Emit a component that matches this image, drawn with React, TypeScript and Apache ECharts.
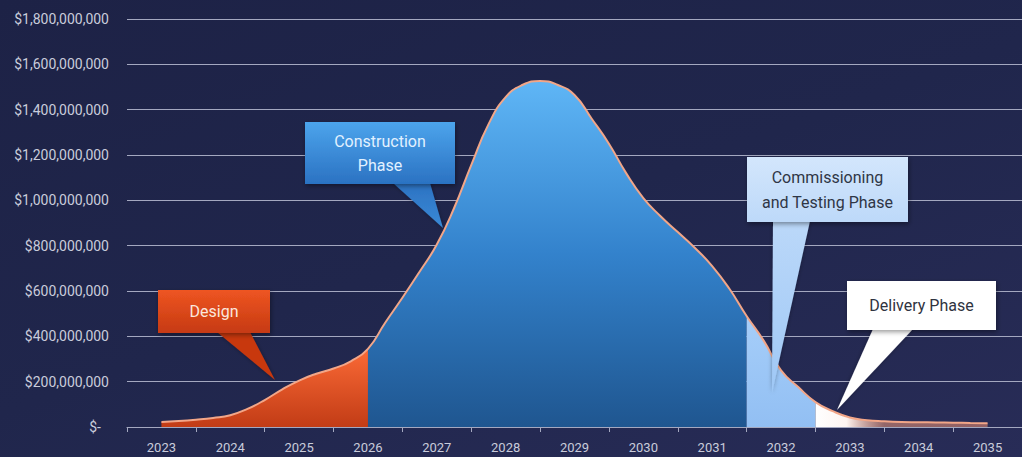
import React, { useEffect, useRef } from "react";
import * as echarts from "echarts";

const yearLabels = ["2023", "2024", "2025", "2026", "2027", "2028", "2029", "2030", "2031", "2032", "2033", "2034", "2035"];

// sample points (year, quarterly)
const sampleYears = [
  2023, 2023.25, 2023.5, 2023.75, 2024, 2024.25, 2024.5, 2024.75,
  2025, 2025.25, 2025.5, 2025.75, 2026, 2026.25, 2026.5, 2026.75,
  2027, 2027.25, 2027.5, 2027.75, 2028, 2028.25, 2028.5, 2028.75,
  2029, 2029.25, 2029.5, 2029.75, 2030, 2030.25, 2030.5, 2030.75,
  2031, 2031.25, 2031.5, 2031.75, 2032, 2032.25, 2032.5, 2032.75,
  2033, 2033.25, 2033.5, 2033.75, 2034, 2034.25, 2034.5, 2034.75, 2035,
];

// spend in millions of dollars
const spendMillions = [
  22, 26, 32, 40, 52, 80, 119, 165,
  205, 235, 258, 290, 345, 460, 570, 685,
  805, 965, 1155, 1335, 1455, 1510, 1527, 1510,
  1465, 1360, 1250, 1120, 1010, 930, 860, 790,
  710, 610, 490, 380, 250, 176, 110, 70,
  42, 30, 25, 22, 21, 20, 19, 18, 17,
];

const phaseNames = ["Design", "Construction Phase", "Commissioning and Testing Phase", "Delivery Phase"];
const phaseStarts = [2023, 2026, 2031.5, 2032.5];
const phaseEnds = [2026, 2031.5, 2032.5, 2035];

const yMax = 1800000000;
const yStep = 200000000;

const FONT = "Roboto, 'Noto Sans', sans-serif";

function lg(x2: number, y2: number, stops: [number, string][]) {
  return new echarts.graphic.LinearGradient(0, 0, x2, y2, stops.map(([offset, color]) => ({ offset, color })));
}

const phaseFills = [
  lg(0, 1, [[0, "#fb6a36"], [1, "#c23c16"]]),
  lg(0, 1, [[0, "#5fb6f6"], [0.5, "#3382cc"], [1, "#1f5690"]]),
  lg(0, 1, [[0, "#a6cef9"], [1, "#92bff3"]]),
  lg(1, 0, [[0, "#ffffff"], [0.18, "#fdf4f0"], [0.4, "rgba(236,150,120,0.55)"], [1, "rgba(236,140,110,0.55)"]]),
];

export default function App() {
  const ref = useRef<HTMLDivElement>(null);
  useEffect(() => {
    if (!ref.current) return;
    const chart = echarts.init(ref.current, undefined, { renderer: "svg" });
    const points = sampleYears.map((x, i) => [x, spendMillions[i] * 1e6]);

    const areaSeries = phaseNames.map((name, p) => ({
      name,
      type: "line",
      xAxisIndex: 1,
      smooth: true,
      symbol: "none",
      lineStyle: { width: 0 },
      areaStyle: { color: phaseFills[p], opacity: 1 },
      data: points.filter((pt) => pt[0] >= phaseStarts[p] && pt[0] <= phaseEnds[p]),
      z: 3,
    }));

    const labelColor = "#c9ccdb";
    const gridColor = "#a4a8c0";

    const callout = (
      rect: { x: number; y: number; w: number; h: number },
      tri: number[][],
      fill: any,
      triFill: any,
      lines: string[],
      textColor: string,
      lineH: number
    ) => ({
      type: "group",
      z: 100,
      children: [
        { type: "polygon", shape: { points: tri }, style: { fill: triFill, shadowBlur: 4, shadowColor: "rgba(0,0,0,0.35)" }, z: 100 },
        {
          type: "rect",
          shape: { x: rect.x, y: rect.y, width: rect.w, height: rect.h },
          style: { fill, shadowBlur: 5, shadowColor: "rgba(0,0,0,0.4)", shadowOffsetX: 1, shadowOffsetY: 2 },
          z: 101,
        },
        {
          type: "text",
          z: 102,
          style: {
            x: rect.x + rect.w / 2,
            y: rect.y + rect.h / 2,
            text: lines.join("\n"),
            fill: textColor,
            font: `16px ${FONT}`,
            align: "center",
            verticalAlign: "middle",
            lineHeight: lineH,
          },
        },
      ],
    });

    chart.setOption({
      animation: false,
      backgroundColor: "transparent",
      grid: { left: 127, top: 19, width: 897, height: 408, containLabel: false },
      xAxis: [
        {
          type: "category",
          data: yearLabels,
          boundaryGap: true,
          axisLine: { show: true, lineStyle: { color: gridColor, width: 1 } },
          axisTick: { show: true, length: 5, lineStyle: { color: gridColor } },
          axisLabel: { color: labelColor, fontSize: 13, fontFamily: FONT, margin: 14 },
          splitLine: { show: false },
        },
        { type: "value", min: 2022.5, max: 2035.5, show: false },
      ],
      yAxis: {
        type: "value",
        min: 0,
        max: yMax,
        interval: yStep,
        axisLine: { show: false },
        axisTick: { show: false },
        splitLine: { show: true, lineStyle: { color: gridColor, width: 1 } },
        axisLabel: {
          color: labelColor,
          fontSize: 14,
          fontFamily: FONT,
          margin: 18,
          formatter: (v: number) => (v === 0 ? "{z|$-}" : "$" + v.toLocaleString("en-US")),
          rich: { z: { color: labelColor, fontSize: 14, fontFamily: FONT, padding: [0, 8, 0, 0] } },
        },
      },
      series: [
        ...areaSeries,
        {
          name: "Spend",
          type: "line",
          xAxisIndex: 1,
          smooth: true,
          symbol: "none",
          lineStyle: { color: "#f2a688", width: 2 },
          data: points,
          z: 5,
        },
      ],
      graphic: [
        callout(
          { x: 158, y: 290, w: 112, h: 43 },
          [[217, 332], [250, 332], [275, 380]],
          lg(0, 1, [[0, "#ee5522"], [1, "#c63a12"]]),
          "#c8380f",
          ["Design"],
          "#fbe6dc",
          20
        ),
        callout(
          { x: 305, y: 122, w: 150, h: 62 },
          [[393, 183], [430, 183], [443, 228]],
          lg(0, 1, [[0, "#4ca4ec"], [1, "#2b72c2"]]),
          lg(0, 1, [[0, "#2c72c2"], [1, "#3a8ad6"]]),
          ["Construction", "Phase"],
          "#e2f1ff",
          24
        ),
        callout(
          { x: 747, y: 157, w: 161, h: 65 },
          [[773, 221], [810, 221], [772, 393]],
          lg(0, 1, [[0, "#d3e6fc"], [1, "#bdd9f9"]]),
          lg(0, 1, [[0, "#bbd8f9"], [1, "#9fc8f6"]]),
          ["Commissioning", "and Testing Phase"],
          "#2f3645",
          25
        ),
        callout(
          { x: 847, y: 281, w: 149, h: 49 },
          [[873, 329], [913, 329], [837, 410]],
          "#ffffff",
          "#ffffff",
          ["Delivery Phase"],
          "#2f3340",
          20
        ),
      ],
    });
    return () => chart.dispose();
  }, []);

  return (
    <div
      style={{
        position: "fixed",
        left: 0,
        top: 0,
        width: 1022,
        height: 457,
        background: "linear-gradient(160deg, #1d2246 0%, #20264c 50%, #282c57 100%)",
      }}
    >
      <div ref={ref} style={{ width: 1022, height: 457 }} />
    </div>
  );
}
